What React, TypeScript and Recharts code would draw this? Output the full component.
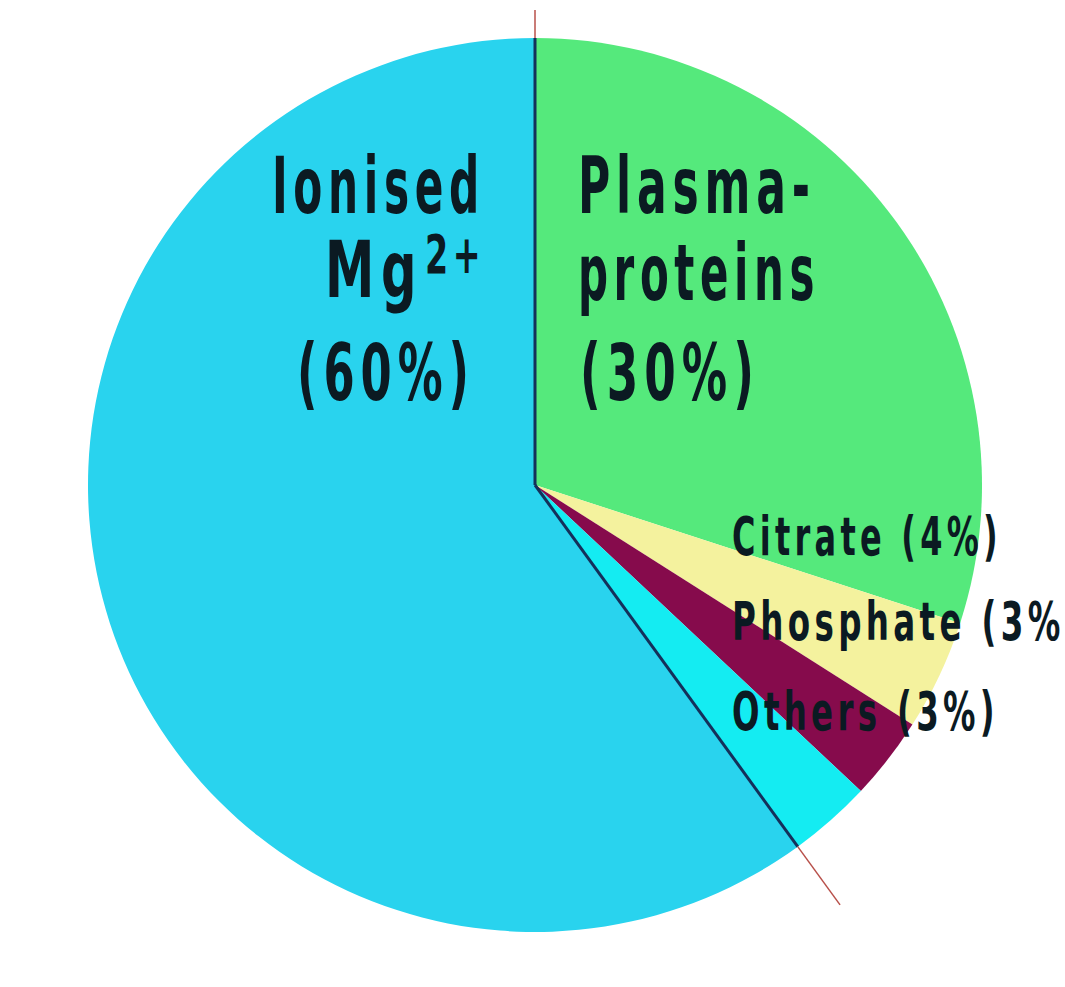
import { PieChart, Pie, Cell } from 'recharts'

const sliceNames = ['Plasma-proteins', 'Citrate', 'Phosphate', 'Others', 'Ionised']
const sliceValues = [30, 4, 3, 3, 60]
const sliceColors = ['#55e97c', '#f4f29e', '#860b4c', '#14ecf2', '#29d3ee']

const data = sliceNames.map((name, i) => ({ name, value: sliceValues[i] }))

const RAD = Math.PI / 180
const FONT = "'DejaVu Sans Condensed', 'DejaVu Sans', sans-serif"
const INK = '#0b1a22'

const pt = (cx: number, cy: number, r: number, angle: number) => ({
  x: cx + r * Math.cos(-angle * RAD),
  y: cy + r * Math.sin(-angle * RAD),
})

function Edge({ cx, cy, r, angle, ext }: { cx: number; cy: number; r: number; angle: number; ext: number }) {
  const a = pt(cx, cy, r, angle)
  const b = pt(cx, cy, r + ext, angle)
  return (
    <g>
      <line x1={cx} y1={cy} x2={a.x} y2={a.y} stroke="#14305a" strokeWidth={3} />
      <line x1={a.x} y1={a.y} x2={b.x} y2={b.y} stroke="#b8504a" strokeWidth={1.5} />
    </g>
  )
}

// narrow, widely spaced lettering like the printed figure
function Lbl({ x, y, w, size, anchor = 'start', children }: any) {
  return (
    <text
      x={x}
      y={y}
      textAnchor={anchor}
      textLength={w}
      lengthAdjust="spacingAndGlyphs"
      style={{ fontFamily: FONT, fontWeight: 700, fontSize: size, letterSpacing: size * 0.12, fill: INK }}
    >
      {children}
    </text>
  )
}

function renderLabel(props: any) {
  const { cx, cy, outerRadius, startAngle, endAngle, index } = props
  const pct = `(${sliceValues[index]}%)`
  if (index === 4) {
    return (
      <g>
        <Edge cx={cx} cy={cy} r={outerRadius} angle={startAngle} ext={72} />
        <Edge cx={cx} cy={cy} r={outerRadius} angle={endAngle} ext={28} />
        <Lbl x={cx - 263} y={cy - 272} w={213} size={78}>{sliceNames[4]}</Lbl>
        <Lbl x={cx - 210} y={cy - 188} w={98} size={78}>Mg</Lbl>
        <Lbl x={cx - 110} y={cy - 212} w={60} size={54}>2+</Lbl>
        <Lbl x={cx - 238} y={cy - 85} w={178} size={78}>{pct}</Lbl>
      </g>
    )
  }
  if (index === 0) {
    const [a, b] = sliceNames[0].split('-')
    return (
      <g>
        <Lbl x={cx + 43} y={cy - 272} w={238} size={78}>{a}-</Lbl>
        <Lbl x={cx + 43} y={cy - 185} w={242} size={78}>{b}</Lbl>
        <Lbl x={cx + 45} y={cy - 85} w={180} size={78}>{pct}</Lbl>
      </g>
    )
  }
  const rows: Record<number, { dy: number; w: number }> = {
    1: { dy: 70, w: 270 },
    2: { dy: 155, w: 352 },
    3: { dy: 245, w: 267 },
  }
  return (
    <Lbl x={cx + 197} y={cy + rows[index].dy} w={rows[index].w} size={54}>
      {sliceNames[index]} {pct}
    </Lbl>
  )
}

export default function App() {
  return (
    <div style={{ position: 'absolute', left: 0, top: 0, width: 1065, height: 987, overflow: 'hidden', background: '#fff' }}>
      <PieChart width={1065} height={987} margin={{ top: 0, right: 0, bottom: 0, left: 0 }}>
        <Pie
          data={data}
          dataKey="value"
          nameKey="name"
          cx={535}
          cy={485}
          outerRadius={447}
          startAngle={90}
          endAngle={-270}
          stroke="none"
          label={renderLabel}
          labelLine={false}
          isAnimationActive={false}
        >
          {data.map((d, i) => (
            <Cell key={d.name} fill={sliceColors[i]} />
          ))}
        </Pie>
      </PieChart>
    </div>
  )
}
